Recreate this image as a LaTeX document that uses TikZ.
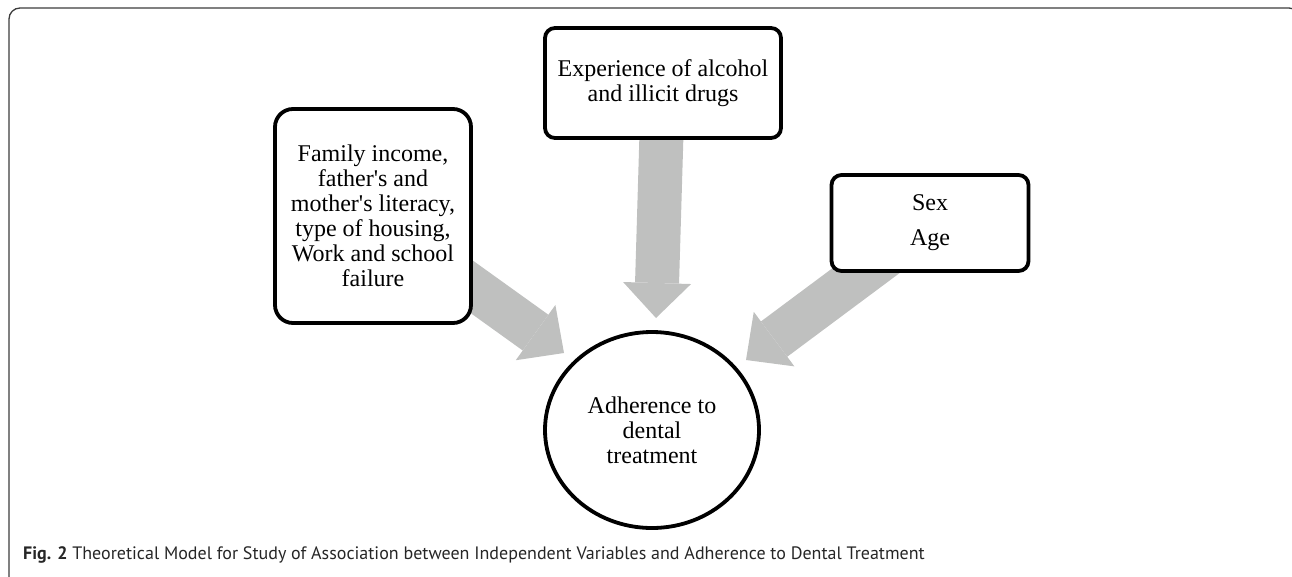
\documentclass[tikz,border=0pt]{standalone}
\usepackage{fontspec}
\setmainfont{Liberation Serif}[Ligatures=TeXOff]
\newfontfamily\capfont{PT Sans}
\usetikzlibrary{shapes.geometric,arrows.meta,backgrounds}
\definecolor{arrowgray}{RGB}{191,192,191}
\definecolor{framegray}{RGB}{60,60,60}
\begin{document}
\begin{tikzpicture}[x=1pt,y=-1pt,
  box/.style={draw=black, line width=3.8pt, fill=white, align=center,
    font=\fontsize{24}{25}\selectfont, inner sep=0pt},
  flow/.style={draw=arrowgray, line width=44pt,
    -{Triangle[width=68pt 0,length=35pt 0,line width=0pt]}},
  frame/.style={draw=framegray, line width=1.3pt, rounded corners=11pt}]
\useasboundingbox (0,0) rectangle (1292,576);
\node[box, rounded corners=18pt, minimum width=196pt, minimum height=214pt] (b1) at (373,216)
  {Family income,\\ father's and\\ mother's literacy,\\ type of housing,\\ Work and school\\ failure};
\node[box, rounded corners=10pt, minimum width=236pt, minimum height=110pt] (b2) at (663,83)
  {Experience of alcohol\\ and illicit drugs};
\node[box, rounded corners=10pt, minimum width=197pt, minimum height=96pt,
  font=\fontsize{24}{35}\selectfont] (b3) at (930,223) {Sex\\ Age};
\node[box, ellipse, minimum width=214pt, minimum height=196pt] (c) at (652,430)
  {Adherence to\\ dental\\ treatment};
\node[anchor=base west, inner sep=0pt, font=\capfont\fontsize{18}{21}\selectfont,
  text=black!85] (cap) at (23,559)
  {\textbf{Fig. 2} Theoretical Model for Study of Association between Independent Variables and Adherence to Dental Treatment};
\begin{scope}[on background layer]
  \clip (0,0) rectangle (1292,576);
  \draw[frame] (9,8) rectangle (1300,590);
  \coordinate (t1) at (564,353);
  \coordinate (t2) at (656,318);
  \coordinate (t3) at (746,360);
  \draw[flow] (b1.center) -- (t1);
  \draw[flow] (b2.center) -- (t2);
  \draw[flow] (b3.center) -- (t3);
\end{scope}
\end{tikzpicture}
\end{document}
